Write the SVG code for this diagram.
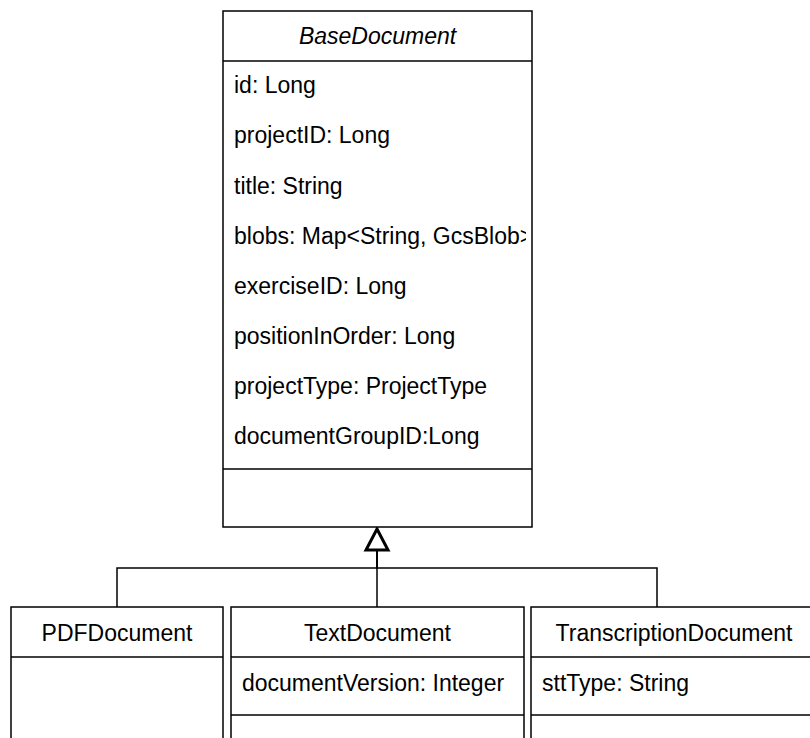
<svg xmlns="http://www.w3.org/2000/svg" width="810" height="738" viewBox="0 0 810 738">
<defs>
<style>
.box{fill:#fff;stroke:#000;stroke-width:1.5}
.ln{stroke:#000;stroke-width:1.5;fill:none}
.t{font-family:"Liberation Sans",Arial,sans-serif;font-size:23px;fill:#000}
.c{text-anchor:middle}
.i{font-style:italic}
.edge{stroke:#000;stroke-width:1.5;fill:none}
</style>
<clipPath id="cb"><rect x="223" y="61" width="303" height="408"/></clipPath>
</defs>
<rect width="810" height="738" fill="#fff"/>
<g id="connectors">
<path class="edge" d="M117 607 V568 H377 V550"/>
<path class="edge" d="M377 607 V550"/>
<path class="edge" d="M657 607 V568 H377 V550"/>
<path d="M377 529 L388 550 L366 550 Z" fill="#fff" stroke="#000" stroke-width="3" stroke-linejoin="miter"/>
</g>
<g id="BaseDocument">
<rect class="box" x="223" y="11" width="309" height="516"/>
<line class="ln" x1="223" y1="61" x2="532" y2="61"/>
<line class="ln" x1="223" y1="469" x2="532" y2="469"/>
<text class="t c i" x="377.5" y="44">BaseDocument</text>
<g clip-path="url(#cb)">
<text class="t" x="234" y="93">id: Long</text>
<text class="t" x="234" y="143">projectID: Long</text>
<text class="t" x="234" y="194">title: String</text>
<text class="t" x="234" y="244">blobs: Map&lt;String, GcsBlob&gt;</text>
<text class="t" x="234" y="294">exerciseID: Long</text>
<text class="t" x="234" y="344">positionInOrder: Long</text>
<text class="t" x="234" y="394">projectType: ProjectType</text>
<text class="t" x="234" y="444">documentGroupID:Long</text>
</g>
</g>
<g id="PDFDocument">
<rect class="box" x="11" y="607" width="212" height="150"/>
<line class="ln" x1="11" y1="657" x2="223" y2="657"/>
<text class="t c" x="117" y="641">PDFDocument</text>
</g>
<g id="TextDocument">
<rect class="box" x="231" y="607" width="293" height="150"/>
<line class="ln" x1="231" y1="657" x2="524" y2="657"/>
<line class="ln" x1="231" y1="715" x2="524" y2="715"/>
<text class="t c" x="377.5" y="641">TextDocument</text>
<text class="t" x="242" y="691">documentVersion: Integer</text>
</g>
<g id="TranscriptionDocument">
<rect class="box" x="531" y="607" width="300" height="150"/>
<line class="ln" x1="531" y1="657" x2="831" y2="657"/>
<line class="ln" x1="531" y1="715" x2="831" y2="715"/>
<text class="t c" x="674" y="641">TranscriptionDocument</text>
<text class="t" x="542" y="691">sttType: String</text>
</g>
</svg>
